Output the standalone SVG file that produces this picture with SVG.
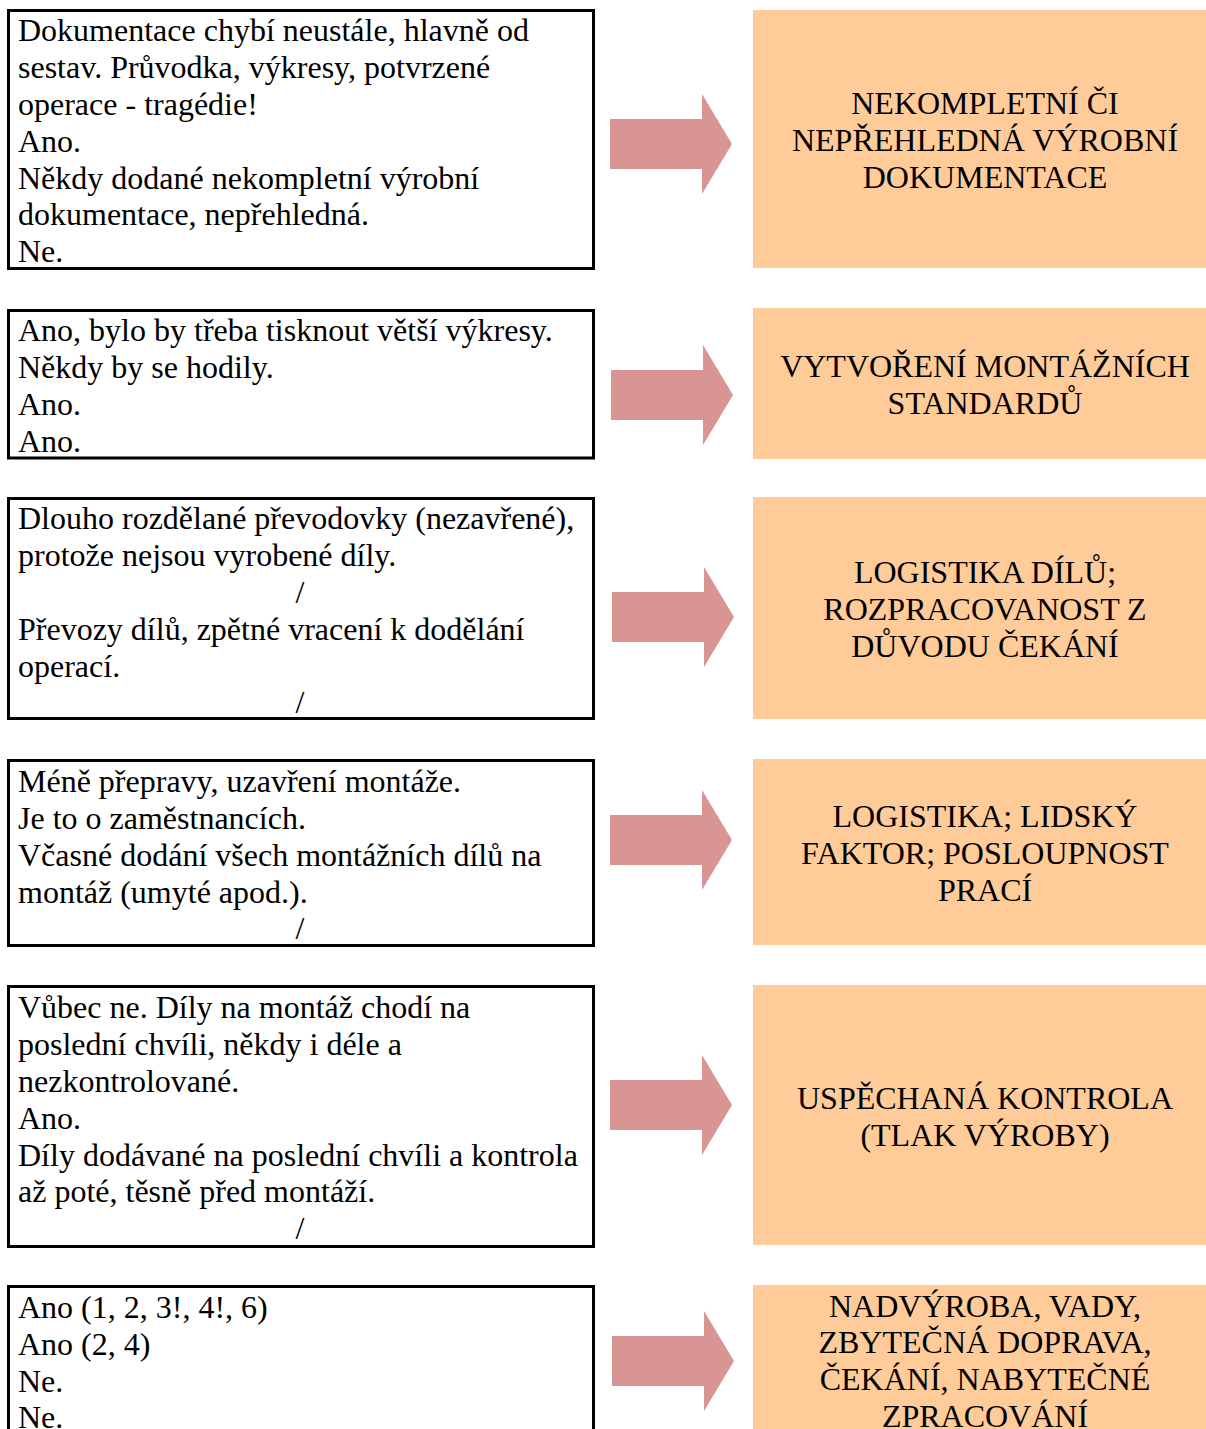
<svg xmlns="http://www.w3.org/2000/svg" xmlns:xlink="http://www.w3.org/1999/xlink" width="1206" height="1429" viewBox="0 0 1206 1429">
  <style>
    .note { fill: #ffffff; stroke: #000000; stroke-width: 3; }
    .cause { fill: #ffcc99; }
    .arrow { fill: #d99594; }
    text { font-family: "Liberation Serif", "Times New Roman", serif; font-size: 32px; fill: #000000; }
    .lt { text-anchor: start; }
    .ct { text-anchor: middle; }
  </style>
  <defs>
    <!-- block arrow, origin at left end of the shaft, vertically centred -->
    <path id="blockArrow" d="M0,-25 H92 V-50 L122,0 L92,50 V25 H0 Z"/>
  </defs>

  <rect width="1206" height="1429" fill="#ffffff"/>

  <!-- row 1 -->
  <g id="note1">
    <rect class="note" x="8.5" y="10.5" width="585" height="258"/>
    <text class="lt" x="18" y="41">Dokumentace chybí neustále, hlavně od</text>
    <text class="lt" x="18" y="78">sestav. Průvodka, výkresy, potvrzené</text>
    <text class="lt" x="18" y="115">operace - tragédie!</text>
    <text class="lt" x="18" y="152">Ano.</text>
    <text class="lt" x="18" y="189">Někdy dodané nekompletní výrobní</text>
    <text class="lt" x="18" y="225">dokumentace, nepřehledná.</text>
    <text class="lt" x="18" y="262">Ne.</text>
  </g>
  <g id="cause1">
    <rect class="cause" x="753" y="10" width="453" height="258"/>
    <text class="ct" x="985" y="114">NEKOMPLETNÍ ČI</text>
    <text class="ct" x="985" y="151">NEPŘEHLEDNÁ VÝROBNÍ</text>
    <text class="ct" x="985" y="188">DOKUMENTACE</text>
  </g>

  <!-- row 2 -->
  <g id="note2">
    <rect class="note" x="8.5" y="310.5" width="585" height="147.5"/>
    <text class="lt" x="18" y="341">Ano, bylo by třeba tisknout větší výkresy.</text>
    <text class="lt" x="18" y="378">Někdy by se hodily.</text>
    <text class="lt" x="18" y="415">Ano.</text>
    <text class="lt" x="18" y="452">Ano.</text>
  </g>
  <g id="cause2">
    <rect class="cause" x="753" y="308" width="453" height="151"/>
    <text class="ct" x="985" y="377">VYTVOŘENÍ MONTÁŽNÍCH</text>
    <text class="ct" x="985" y="414">STANDARDŮ</text>
  </g>

  <!-- row 3 -->
  <g id="note3">
    <rect class="note" x="8.5" y="498.5" width="585" height="220"/>
    <text class="lt" x="18" y="529">Dlouho rozdělané převodovky (nezavřené),</text>
    <text class="lt" x="18" y="566">protože nejsou vyrobené díly.</text>
    <text class="ct" x="300" y="603">/</text>
    <text class="lt" x="18" y="640">Převozy dílů, zpětné vracení k dodělání</text>
    <text class="lt" x="18" y="677">operací.</text>
    <text class="ct" x="300" y="713">/</text>
  </g>
  <g id="cause3">
    <rect class="cause" x="753" y="497" width="453" height="222"/>
    <text class="ct" x="985" y="583">LOGISTIKA DÍLŮ;</text>
    <text class="ct" x="985" y="620">ROZPRACOVANOST Z</text>
    <text class="ct" x="985" y="657">DŮVODU ČEKÁNÍ</text>
  </g>

  <!-- row 4 -->
  <g id="note4">
    <rect class="note" x="8.5" y="760.5" width="585" height="185"/>
    <text class="lt" x="18" y="792">Méně přepravy, uzavření montáže.</text>
    <text class="lt" x="18" y="829">Je to o zaměstnancích.</text>
    <text class="lt" x="18" y="866">Včasné dodání všech montážních dílů na</text>
    <text class="lt" x="18" y="903">montáž (umyté apod.).</text>
    <text class="ct" x="300" y="939">/</text>
  </g>
  <g id="cause4">
    <rect class="cause" x="753" y="759" width="453" height="186"/>
    <text class="ct" x="985" y="827">LOGISTIKA; LIDSKÝ</text>
    <text class="ct" x="985" y="864">FAKTOR; POSLOUPNOST</text>
    <text class="ct" x="985" y="901">PRACÍ</text>
  </g>

  <!-- row 5 -->
  <g id="note5">
    <rect class="note" x="8.5" y="986.5" width="585" height="260"/>
    <text class="lt" x="18" y="1018">Vůbec ne. Díly na montáž chodí na</text>
    <text class="lt" x="18" y="1055">poslední chvíli, někdy i déle a</text>
    <text class="lt" x="18" y="1092">nezkontrolované.</text>
    <text class="lt" x="18" y="1129">Ano.</text>
    <text class="lt" x="18" y="1166">Díly dodávané na poslední chvíli a kontrola</text>
    <text class="lt" x="18" y="1202">až poté, těsně před montáží.</text>
    <text class="ct" x="300" y="1239">/</text>
  </g>
  <g id="cause5">
    <rect class="cause" x="753" y="985" width="453" height="260"/>
    <text class="ct" x="985" y="1109">USPĚCHANÁ KONTROLA</text>
    <text class="ct" x="985" y="1146">(TLAK VÝROBY)</text>
  </g>

  <!-- row 6 (continues below the page edge) -->
  <g id="note6">
    <rect class="note" x="8.5" y="1286.5" width="585" height="160"/>
    <text class="lt" x="18" y="1318">Ano (1, 2, 3!, 4!, 6)</text>
    <text class="lt" x="18" y="1355">Ano (2, 4)</text>
    <text class="lt" x="18" y="1392">Ne.</text>
    <text class="lt" x="18" y="1428">Ne.</text>
  </g>
  <g id="cause6">
    <rect class="cause" x="753" y="1285" width="453" height="144"/>
    <text class="ct" x="985" y="1317">NADVÝROBA, VADY,</text>
    <text class="ct" x="985" y="1353">ZBYTEČNÁ DOPRAVA,</text>
    <text class="ct" x="985" y="1390">ČEKÁNÍ, NABYTEČNÉ</text>
    <text class="ct" x="985" y="1427">ZPRACOVÁNÍ</text>
  </g>

  <!-- block arrows linking each note to its cause -->
  <g id="connectors">
    <use class="arrow" xlink:href="#blockArrow" x="610" y="144"/>
    <use class="arrow" xlink:href="#blockArrow" x="611" y="395"/>
    <use class="arrow" xlink:href="#blockArrow" x="612" y="617"/>
    <use class="arrow" xlink:href="#blockArrow" x="610" y="840"/>
    <use class="arrow" xlink:href="#blockArrow" x="610" y="1105"/>
    <use class="arrow" xlink:href="#blockArrow" x="612" y="1361"/>
  </g>
</svg>
